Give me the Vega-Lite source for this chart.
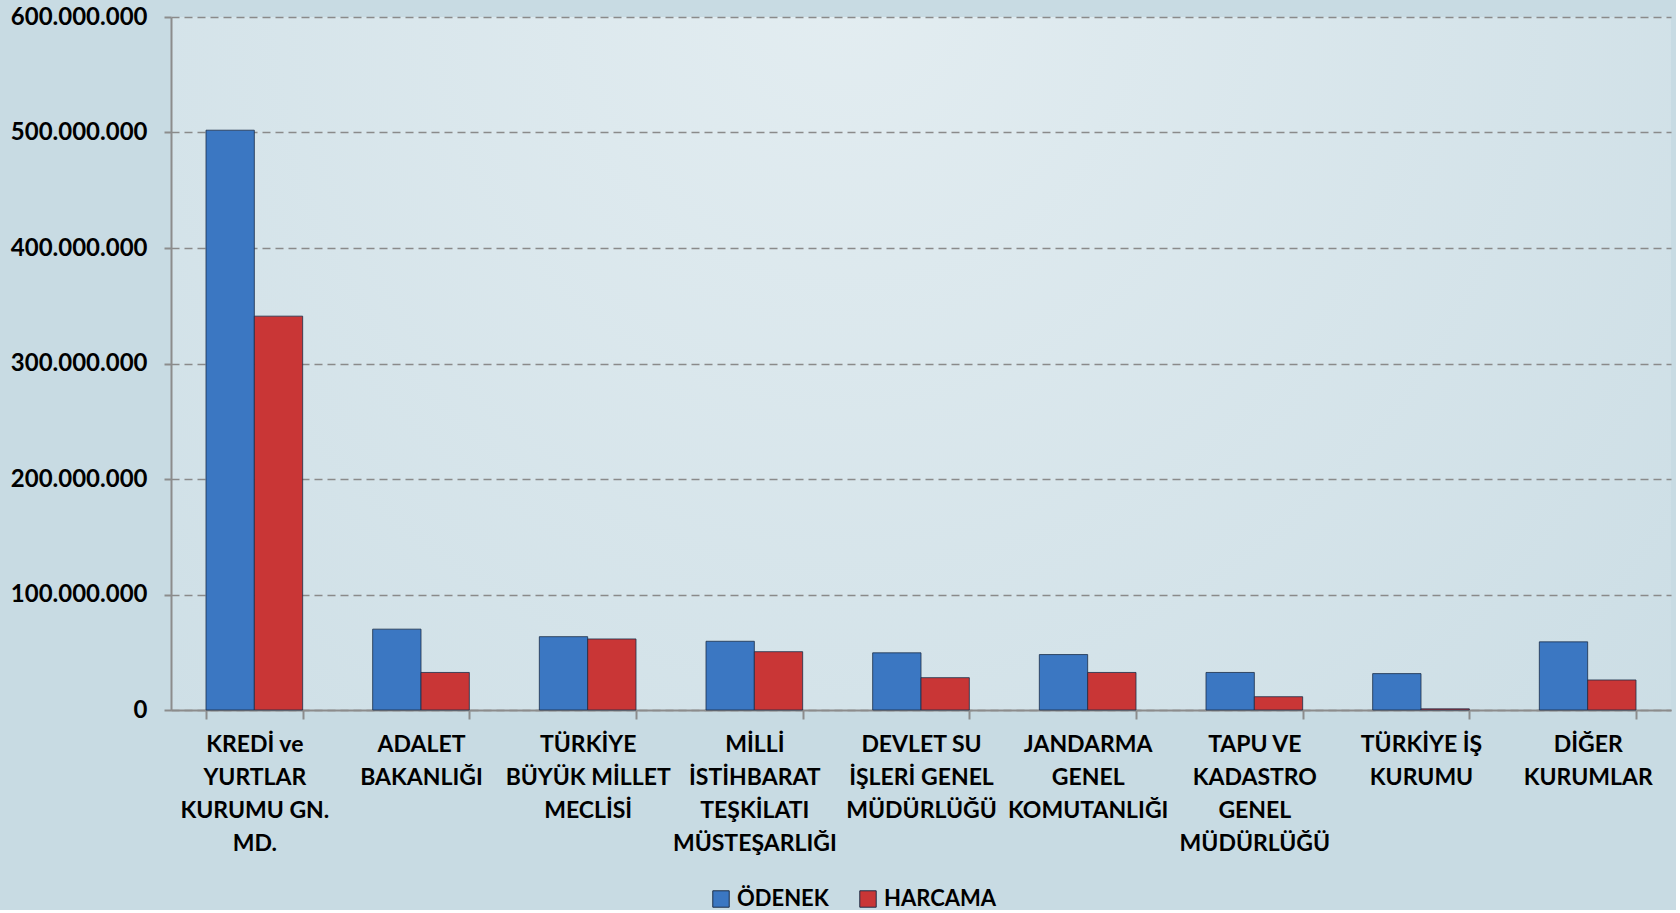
{
  "$schema": "https://vega.github.io/schema/vega-lite/v6.json",
  "width": 1500,
  "height": 693,
  "padding": {"left": 10, "top": 5, "right": 5, "bottom": 0},
  "background": "#c8dbe3",
  "config": {
    "locale": {"number": {"decimal": ",", "thousands": ".", "grouping": [3], "currency": ["", " TL"]}},
    "font": "Lato",
    "view": {
      "stroke": null,
      "fill": {"gradient": "radial", "x1": 0.45, "y1": 0.25, "r1": 0, "x2": 0.45, "y2": 0.25, "r2": 0.85,
        "stops": [{"offset": 0, "color": "#e3edf1"}, {"offset": 1, "color": "#c8dbe3"}]}
    }
  },
  "data": {
    "values": [
      {"kurum": "KREDİ ve|YURTLAR|KURUMU GN.|MD.", "tur": "ÖDENEK", "tutar": 502000000},
      {"kurum": "KREDİ ve|YURTLAR|KURUMU GN.|MD.", "tur": "HARCAMA", "tutar": 341000000},
      {"kurum": "ADALET|BAKANLIĞI", "tur": "ÖDENEK", "tutar": 70000000},
      {"kurum": "ADALET|BAKANLIĞI", "tur": "HARCAMA", "tutar": 32500000},
      {"kurum": "TÜRKİYE|BÜYÜK MİLLET|MECLİSİ", "tur": "ÖDENEK", "tutar": 63500000},
      {"kurum": "TÜRKİYE|BÜYÜK MİLLET|MECLİSİ", "tur": "HARCAMA", "tutar": 61500000},
      {"kurum": "MİLLİ|İSTİHBARAT|TEŞKİLATI|MÜSTEŞARLIĞI", "tur": "ÖDENEK", "tutar": 59500000},
      {"kurum": "MİLLİ|İSTİHBARAT|TEŞKİLATI|MÜSTEŞARLIĞI", "tur": "HARCAMA", "tutar": 50500000},
      {"kurum": "DEVLET SU|İŞLERİ GENEL|MÜDÜRLÜĞÜ", "tur": "ÖDENEK", "tutar": 49500000},
      {"kurum": "DEVLET SU|İŞLERİ GENEL|MÜDÜRLÜĞÜ", "tur": "HARCAMA", "tutar": 28000000},
      {"kurum": "JANDARMA|GENEL|KOMUTANLIĞI", "tur": "ÖDENEK", "tutar": 48000000},
      {"kurum": "JANDARMA|GENEL|KOMUTANLIĞI", "tur": "HARCAMA", "tutar": 32500000},
      {"kurum": "TAPU VE|KADASTRO|GENEL|MÜDÜRLÜĞÜ", "tur": "ÖDENEK", "tutar": 32500000},
      {"kurum": "TAPU VE|KADASTRO|GENEL|MÜDÜRLÜĞÜ", "tur": "HARCAMA", "tutar": 11500000},
      {"kurum": "TÜRKİYE İŞ|KURUMU", "tur": "ÖDENEK", "tutar": 31500000},
      {"kurum": "TÜRKİYE İŞ|KURUMU", "tur": "HARCAMA", "tutar": 1000000},
      {"kurum": "DİĞER|KURUMLAR", "tur": "ÖDENEK", "tutar": 59000000},
      {"kurum": "DİĞER|KURUMLAR", "tur": "HARCAMA", "tutar": 26000000}
    ]
  },
  "mark": {"type": "bar", "stroke": "#1c2e48", "strokeWidth": 1, "strokeOpacity": 0.8},
  "encoding": {
    "x": {
      "field": "kurum", "type": "nominal", "sort": null,
      "scale": {"paddingInner": 0.42, "paddingOuter": 0.21},
      "axis": {
        "title": null, "labelAngle": 0, "labelExpr": "isValid(datum.value) ? split(datum.value, '|') : ''",
        "labelFont": "Lato", "labelFontSize": 23, "labelFontWeight": "bold", "labelColor": "#000000",
        "labelLineHeight": 33, "labelPadding": 14, "labelBaseline": "top",
        "tickBand": "extent", "tickSize": 9, "tickColor": "#8c8c8c", "tickWidth": 2,
        "domainColor": "#8c8c8c", "domainWidth": 2, "labelLimit": 200
      }
    },
    "xOffset": {"field": "tur", "type": "nominal", "scale": {"domain": ["ÖDENEK", "HARCAMA"]}},
    "y": {
      "field": "tutar", "type": "quantitative",
      "scale": {"domain": [0, 600000000], "nice": false},
      "axis": {
        "title": null, "values": [0, 100000000, 200000000, 300000000, 400000000, 500000000, 600000000],
        "format": ",d", "labelFont": "Lato", "labelFontSize": 24, "labelFontWeight": "bold", "labelColor": "#000000",
        "labelPadding": 17, "tickSize": 7, "tickColor": "#8c8c8c", "tickWidth": 2,
        "domainColor": "#8c8c8c", "domainWidth": 2,
        "grid": true, "gridColor": "#8a8a8a", "gridDash": [8, 5], "gridWidth": 1.5
      }
    },
    "color": {
      "field": "tur", "type": "nominal",
      "scale": {"domain": ["ÖDENEK", "HARCAMA"], "range": ["#3b77c2", "#c93636"]},
      "legend": {
        "title": null, "orient": "none", "direction": "horizontal", "legendX": 539, "legendY": 871,
        "symbolType": "square", "symbolSize": 270, "symbolStrokeColor": "#1c2e48", "symbolStrokeWidth": 1,
        "labelFont": "Lato", "labelFontSize": 22, "labelFontWeight": "bold", "labelColor": "#000000",
        "columnPadding": 28, "labelOffset": 5
      }
    }
  }
}
